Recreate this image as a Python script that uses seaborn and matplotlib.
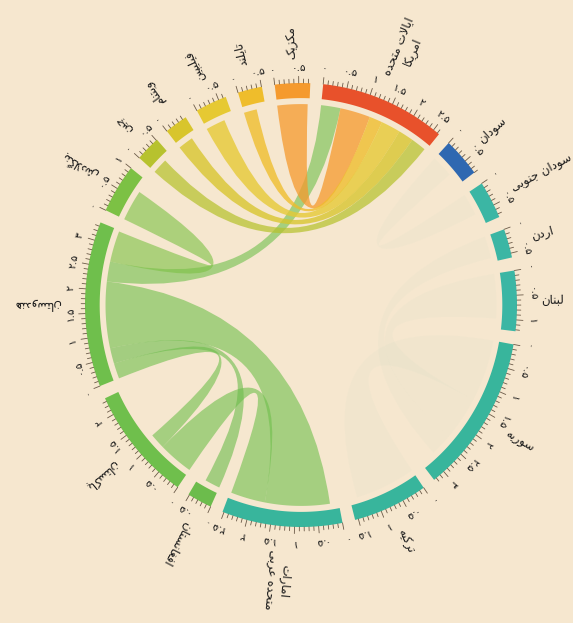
import numpy as np
import matplotlib
matplotlib.use("Agg")
import matplotlib.pyplot as plt
from matplotlib.path import Path
from matplotlib.patches import PathPatch
import seaborn as sns

# segments, clockwise from the top
countries = ["USA", "Sudan", "SouthSudan", "Jordan", "Lebanon", "Syria", "Turkey", "UAE",
             "Afghanistan", "Pakistan", "India", "Bangladesh", "China", "Vietnam",
             "Philippines", "Thailand", "Mexico"]
names = ["ایالات متحده\nامریکا", "سودان", "سودان جنوبی", "اردن", "لبنان", "سوریه", "ترکیه",
         "امارات\nمتحده عربی", "افغانستان", "پاکستان", "هندوستان", "بنگلادش", "چین",
         "ویتنام", "فیلیپین", "تایلند", "مکزیک"]
sizes = [2.64, 0.8, 0.77, 0.59, 1.23, 3.26, 1.57, 2.53, 0.52, 2.37, 3.38, 1.0, 0.52,
         0.48, 0.66, 0.51, 0.74]
colors = ["#e8512b", "#2f68b1", "#3bb6a4", "#3bb6a4", "#3bb6a4", "#38b59c", "#38b59c",
          "#38b59c", "#6cbc4c", "#6fbf4c", "#6fbf4c", "#7cc144", "#b7c22e", "#d8c52c",
          "#e6c933", "#efbd2b", "#f59a2e"]

# flows: source, target, width
chord_src = ["India", "Mexico", "Thailand", "Philippines", "Vietnam", "China",
             "India", "Pakistan", "Bangladesh", "Pakistan", "Afghanistan",
             "Syria", "Syria", "Syria", "SouthSudan"]
chord_dst = ["USA", "USA", "USA", "USA", "USA", "USA",
             "UAE", "UAE", "India", "India", "India",
             "Turkey", "Lebanon", "Jordan", "Sudan"]
chord_val = [0.45, 0.7, 0.3, 0.45, 0.35, 0.35,
             1.5, 0.8, 0.7, 0.35, 0.35,
             1.4, 1.0, 0.5, 0.5]
chord_alpha = [0.6, 0.75, 0.78, 0.78, 0.78, 0.72,
               0.6, 0.6, 0.6, 0.6, 0.6,
               0.025, 0.025, 0.025, 0.025]
start_offset = {"UAE": 0.2}

# order of attachment on each segment
attach_order = {
    "USA": ["India", "Mexico", "Thailand", "Philippines", "Vietnam", "China"],
    "India": ["Pakistan", "Afghanistan", "UAE", "USA", "Bangladesh"],
    "UAE": ["India", "Pakistan"],
    "Pakistan": ["UAE", "India"],
}

GAP = 3.43
START = 5.9
R_OUT, R_IN, R_CH = 1.0, 0.932, 0.905

persian_digits = str.maketrans("0123456789", "۰۱۲۳۴۵۶۷۸۹")

FORMS = {
    'ا': ('\uFE8D', '\uFE8E', None, None), 'آ': ('\uFE81', '\uFE82', None, None),
    'ب': ('\uFE8F', '\uFE90', '\uFE91', '\uFE92'), 'پ': ('\uFB56', '\uFB57', '\uFB58', '\uFB59'),
    'ت': ('\uFE95', '\uFE96', '\uFE97', '\uFE98'), 'ج': ('\uFE9D', '\uFE9E', '\uFE9F', '\uFEA0'),
    'چ': ('\uFB7A', '\uFB7B', '\uFB7C', '\uFB7D'), 'ح': ('\uFEA1', '\uFEA2', '\uFEA3', '\uFEA4'),
    'د': ('\uFEA9', '\uFEAA', None, None), 'ر': ('\uFEAD', '\uFEAE', None, None),
    'ز': ('\uFEAF', '\uFEB0', None, None), 'ژ': ('\uFB8A', '\uFB8B', None, None),
    'س': ('\uFEB1', '\uFEB2', '\uFEB3', '\uFEB4'), 'ش': ('\uFEB5', '\uFEB6', '\uFEB7', '\uFEB8'),
    'ع': ('\uFEC9', '\uFECA', '\uFECB', '\uFECC'), 'غ': ('\uFECD', '\uFECE', '\uFECF', '\uFED0'),
    'ف': ('\uFED1', '\uFED2', '\uFED3', '\uFED4'), 'ک': ('\uFB8E', '\uFB8F', '\uFB90', '\uFB91'),
    'گ': ('\uFB92', '\uFB93', '\uFB94', '\uFB95'), 'ل': ('\uFEDD', '\uFEDE', '\uFEDF', '\uFEE0'),
    'م': ('\uFEE1', '\uFEE2', '\uFEE3', '\uFEE4'), 'ن': ('\uFEE5', '\uFEE6', '\uFEE7', '\uFEE8'),
    'ه': ('\uFEE9', '\uFEEA', '\uFEEB', '\uFEEC'), 'و': ('\uFEED', '\uFEEE', None, None),
    'ی': ('\uFBFC', '\uFBFD', '\uFBFE', '\uFBFF'),
}


def shape_line(s):
    # join Persian letters into presentation forms, then reverse for left-to-right drawing
    out = []
    i = 0
    while i < len(s):
        c = s[i]
        if c not in FORMS:
            out.append(c)
            i += 1
            continue
        prev = s[i - 1] if i > 0 else None
        jp = prev in FORMS and FORMS[prev][2] is not None
        if c == 'ل' and i + 1 < len(s) and s[i + 1] in 'اآ':
            if s[i + 1] == 'ا':
                out.append('\uFEFC' if jp else '\uFEFB')
            else:
                out.append('\uFEF6' if jp else '\uFEF5')
            i += 2
            continue
        nxt = s[i + 1] if i + 1 < len(s) else None
        jn = nxt in FORMS and FORMS[c][2] is not None
        f = FORMS[c]
        if jp and jn:
            out.append(f[3])
        elif jp:
            out.append(f[1])
        elif jn:
            out.append(f[2])
        else:
            out.append(f[0])
        i += 1
    return "".join(out)[::-1]


def persian(s):
    return "\n".join(shape_line(line) for line in s.split("\n"))


def xy(theta, r):
    t = np.radians(theta)
    return r * np.sin(t), r * np.cos(t)


sns.set_theme(style="white")
plt.rcParams['font.family'] = ['DejaVu Sans']
bg = "#f6e7cf"

W, H = 573, 623
CX, CY, SX, SY = 301, 305, 216, 222
fig = plt.figure(figsize=(W / 100, H / 100), dpi=100, facecolor=bg)
ax = fig.add_axes([0, 0, 1, 1])
ax.set_facecolor(bg)
ax.set_xlim(-CX / SX, (W - CX) / SX)
ax.set_ylim(-(H - CY) / SY, CY / SY)
ax.axis("off")

n = len(countries)
deg_per = (360 - n * GAP) / sum(sizes)
seg_start = {}
a = START
for c, s in zip(countries, sizes):
    seg_start[c] = a
    a += s * deg_per + GAP
size_of = dict(zip(countries, sizes))
color_of = dict(zip(countries, colors))

# attachment positions
cursor = {c: start_offset.get(c, 0.0) for c in countries}
pos = {}
for c in countries:
    for other in attach_order.get(c, []):
        for k in range(len(chord_val)):
            if (chord_src[k] == c and chord_dst[k] == other) or (chord_dst[k] == c and chord_src[k] == other):
                pos[(k, c)] = cursor[c]
                cursor[c] += chord_val[k]
for k in range(len(chord_val)):
    for c in (chord_src[k], chord_dst[k]):
        if (k, c) not in pos:
            pos[(k, c)] = cursor[c]
            cursor[c] += chord_val[k]


def ang(c, v):
    return seg_start[c] + v * deg_per


# chords
for k in range(len(chord_val)):
    s, d, v = chord_src[k], chord_dst[k], chord_val[k]
    a0, a1 = ang(s, pos[(k, s)]), ang(s, pos[(k, s)] + v)
    b0, b1 = ang(d, pos[(k, d)]), ang(d, pos[(k, d)] + v)
    verts, codes = [], []
    for t in np.linspace(a0, a1, 25):
        verts.append(xy(t, R_CH))
        codes.append(Path.LINETO)
    codes[0] = Path.MOVETO
    verts += [(0, 0), xy(b0, R_CH)]
    codes += [Path.CURVE3, Path.CURVE3]
    for t in np.linspace(b0, b1, 25)[1:]:
        verts.append(xy(t, R_CH))
        codes.append(Path.LINETO)
    verts += [(0, 0), xy(a0, R_CH), xy(a0, R_CH)]
    codes += [Path.CURVE3, Path.CURVE3, Path.CLOSEPOLY]
    ax.add_patch(PathPatch(Path(verts, codes), facecolor=color_of[s], edgecolor="none",
                           alpha=chord_alpha[k], zorder=2))

# ring, ticks, labels
for c, name in zip(countries, names):
    s0 = seg_start[c]
    s1 = ang(c, size_of[c])
    th = np.linspace(s0, s1, 60)
    outer = np.array([xy(t, R_OUT) for t in th])
    inner = np.array([xy(t, R_IN) for t in th[::-1]])
    poly = np.vstack([outer, inner])
    ax.fill(poly[:, 0], poly[:, 1], color=color_of[c], lw=0, zorder=3)

    for k in range(int(size_of[c] * 10 + 1e-6) + 1):
        t = ang(c, k / 10)
        major = k % 5 == 0
        r2 = 1.03 if major else 1.018
        p1, p2 = xy(t, R_OUT), xy(t, r2)
        ax.plot([p1[0], p2[0]], [p1[1], p2[1]], color="#6b5a48", lw=0.6, zorder=3)
        if major:
            txt = str(k // 10) if k % 10 == 0 else f"{k // 10}.5"
            lx, ly = xy(t, 1.07)
            ax.text(lx, ly, txt.translate(persian_digits), fontsize=7.5, color="#1a1a1a",
                    rotation=-t, ha="center", va="center", rotation_mode="anchor")

    mid = (s0 + s1) / 2
    rot = (90 - mid + 180) % 360 - 180
    nx, ny = xy(mid, 1.11)
    ax.text(nx, ny, persian(name), fontsize=8.5, color="#1a1a1a", rotation=rot,
            ha="left", va="center", rotation_mode="anchor", multialignment="center")

fig.savefig("out.png", dpi=100, facecolor=bg)
